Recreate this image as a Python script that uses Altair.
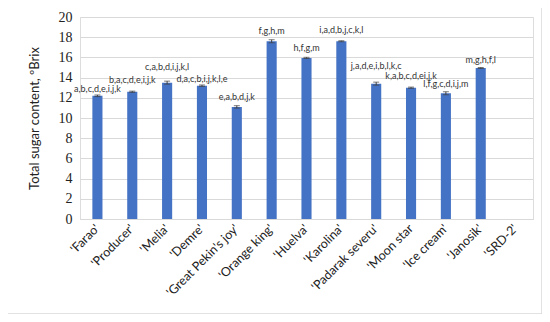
import altair as alt
import pandas as pd

cultivars = ["'Farao'", "'Producer'", "'Melia'", "'Demre'", "'Great Pekin's joy'",
             "'Orange king'", "'Huelva'", "'Karolina'", "'Padarak severu'", "'Moon star",
             "'Ice cream'", "'Janosik'", "'SRD-2'"]
sugar = [12.2, 12.6, 13.5, 13.2, 11.1, 17.6, 15.95, 17.6, 13.4, 13.0, 12.45, 14.95, None]
err = [0.08, 0.06, 0.15, 0.07, 0.12, 0.15, 0.06, 0.05, 0.15, 0.06, 0.15, 0.05, None]
letters = ["a,b,c,d,e,i,j,k", "b,a,c,d,e,i,j,k", "c,a,b,d,i,j,k,l", "d,a,c,b,i,j,k,l,e",
           "e,a,b,d,j,k", "f,g,h,m", "h,f,g,m", "i,a,d,b,j,c,k,l", "j,a,d,e,i,b,l,k,c",
           "k,a,b,c,d,ei,j,k", "l,f,g,c,d,i,j,m", "m,g,h,f,l", ""]
# label lift above bar top (pixels, style only)
label_lift = [7, 12, 16, 7, 10, 10, 10, 11, 18, 12, 9, 8, 0]

PX_PER_UNIT = 202 / 20.0

df = pd.DataFrame({"cultivar": cultivars, "sugar": sugar, "err": err,
                   "letters": letters, "lift": label_lift})
df["lo"] = df["sugar"] - df["err"]
df["hi"] = df["sugar"] + df["err"]

ytitle = "Total sugar content, ºBrix"
xaxis = alt.Axis(labelAngle=-45, labelFont="Lato", labelFontSize=12.5, labelColor="#222",
                 ticks=False, domainColor="#d9d9d9", labelPadding=7, labelAlign="right",
                 labelBaseline="middle", grid=False)
yaxis = alt.Axis(values=list(range(0, 21, 2)), labelFont="Liberation Serif",
                 labelFontSize=14, labelColor="#222", ticks=False, domain=False,
                 gridColor="#d9d9d9", labelOverlap=False, titleFont="Lato",
                 titleFontSize=13, titleFontWeight="normal", titleColor="#222",
                 labelPadding=8, titlePadding=17)
xscale = alt.Scale(paddingInner=0.71, paddingOuter=0.355)
yscale = alt.Scale(domain=[0, 20])


def X():
    return alt.X("cultivar:N", sort=cultivars, title=None, scale=xscale, axis=xaxis)


def Y(field):
    return alt.Y(field, title=ytitle, scale=yscale, axis=yaxis)


base = alt.Chart(df)
bars = base.mark_bar(color="#4472c4").encode(x=X(), y=Y("sugar:Q"))
ebar = base.mark_errorbar(ticks=alt.TickConfig(size=6, color="#404040"), color="#404040",
                          thickness=1).encode(x=X(), y=Y("lo:Q"), y2="hi:Q")
txt = base.transform_calculate(
    ly=f"datum.sugar + datum.lift / {PX_PER_UNIT}"
).mark_text(baseline="middle", fontSize=9, font="Lato", color="#333333").encode(
    x=X(), y=Y("ly:Q"), text="letters:N")
border = alt.Chart(pd.DataFrame({"a": [0]})).mark_rect(
    fill=None, stroke="#d9d9d9", strokeWidth=1.5, clip=False).encode(
    x=alt.value(-74), x2=alt.value(462), y=alt.value(-12), y2=alt.value(297))

chart = alt.layer(border, bars, ebar, txt).properties(
    width=453, height=202,
    autosize=alt.AutoSizeParams(type="none"),
    padding={"left": 72, "top": 9, "right": 9, "bottom": 95},
).configure_view(stroke=None).configure(background="white")

chart.save("out.html", embed_options={"renderer": "svg", "actions": False})
